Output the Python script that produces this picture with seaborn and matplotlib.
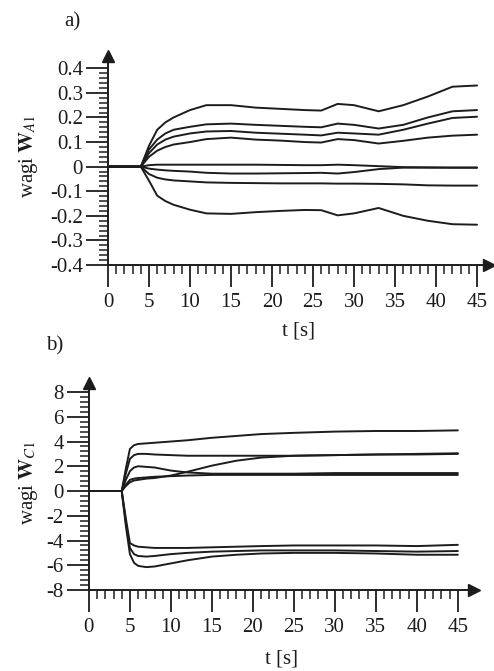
import seaborn as sns
import matplotlib.pyplot as plt
import numpy as np
import pandas as pd

# panel a) - wagi W_A1
t_a = [0, 4, 5, 6, 7, 8, 10, 12, 15, 18, 21, 24, 26, 28, 30, 33, 36, 39, 42, 45]
a1 = [0, 0, 0.085, 0.15, 0.18, 0.2, 0.23, 0.25, 0.25, 0.24, 0.235, 0.23, 0.228, 0.255, 0.25, 0.225, 0.25, 0.285, 0.325, 0.33]
a2 = [0, 0, 0.07, 0.11, 0.135, 0.15, 0.162, 0.172, 0.175, 0.17, 0.166, 0.162, 0.16, 0.175, 0.17, 0.155, 0.17, 0.2, 0.225, 0.23]
a3 = [0, 0, 0.055, 0.09, 0.11, 0.122, 0.135, 0.143, 0.145, 0.138, 0.134, 0.13, 0.127, 0.138, 0.135, 0.13, 0.15, 0.175, 0.198, 0.203]
a4 = [0, 0, 0.04, 0.065, 0.08, 0.09, 0.1, 0.112, 0.118, 0.11, 0.106, 0.1, 0.098, 0.112, 0.108, 0.094, 0.105, 0.118, 0.126, 0.13]
a5 = [0, 0, 0.006, 0.008, 0.008, 0.008, 0.008, 0.008, 0.008, 0.008, 0.007, 0.006, 0.006, 0.008, 0.006, 0.002, -0.002, -0.003, -0.004, -0.004]
a6 = [0, 0, -0.008, -0.012, -0.015, -0.017, -0.02, -0.025, -0.028, -0.028, -0.027, -0.026, -0.025, -0.028, -0.022, -0.01, -0.004, -0.004, -0.004, -0.004]
a7 = [0, 0, -0.03, -0.045, -0.052, -0.056, -0.06, -0.064, -0.066, -0.067, -0.068, -0.068, -0.068, -0.069, -0.069, -0.07, -0.072, -0.076, -0.077, -0.077]
a8 = [0, 0, -0.057, -0.118, -0.14, -0.155, -0.175, -0.19, -0.192, -0.185, -0.18, -0.176, -0.177, -0.198, -0.19, -0.168, -0.2, -0.22, -0.234, -0.236]

# panel b) - wagi W_C1
t_b = [0, 4, 4.5, 5, 5.5, 6, 7, 8, 10, 12, 15, 18, 21, 25, 30, 35, 40, 45]
b1 = [0, 0, 1.8, 3.4, 3.7, 3.8, 3.85, 3.9, 4.0, 4.1, 4.3, 4.45, 4.6, 4.7, 4.8, 4.85, 4.85, 4.9]
b2 = [0, 0, 1.4, 2.6, 2.9, 3.0, 3.0, 2.95, 2.9, 2.85, 2.85, 2.85, 2.85, 2.85, 2.9, 2.95, 2.95, 3.0]
b3 = [0, 0, 0.9, 1.6, 1.9, 2.0, 1.95, 1.9, 1.65, 1.5, 1.4, 1.4, 1.4, 1.4, 1.45, 1.45, 1.45, 1.45]
b4 = [0, 0, 0.4, 0.7, 0.85, 0.9, 1.0, 1.05, 1.25, 1.55, 2.05, 2.45, 2.7, 2.85, 2.9, 2.95, 3.0, 3.05]
b5 = [0, 0, 0.5, 0.9, 1.0, 1.05, 1.1, 1.15, 1.2, 1.25, 1.3, 1.3, 1.3, 1.3, 1.3, 1.3, 1.3, 1.3]
b6 = [0, 0, -2.2, -4.2, -4.4, -4.5, -4.55, -4.6, -4.6, -4.6, -4.55, -4.5, -4.45, -4.4, -4.4, -4.4, -4.45, -4.35]
b7 = [0, 0, -2.5, -4.6, -5.1, -5.25, -5.3, -5.25, -5.1, -5.0, -4.9, -4.85, -4.8, -4.8, -4.8, -4.85, -4.9, -4.85]
b8 = [0, 0, -2.8, -5.1, -5.8, -6.05, -6.15, -6.1, -5.85, -5.6, -5.3, -5.15, -5.05, -5.0, -5.0, -5.05, -5.15, -5.15]

x_ticks = [0, 5, 10, 15, 20, 25, 30, 35, 40, 45]
y_ticks_a = [-0.4, -0.3, -0.2, -0.1, 0, 0.1, 0.2, 0.3, 0.4]
y_labels_a = ["-0.4", "-0.3", "-0.2", "-0.1", "0", "0.1", "0.2", "0.3", "0.4"]
y_ticks_b = [-8, -6, -4, -2, 0, 2, 4, 6, 8]
y_labels_b = ["-8", "-6", "-4", "-2", "0", "2", "4", "6", "8"]


def long_df(t, curves):
    rows = []
    for i, c in enumerate(curves):
        for tt, v in zip(t, c):
            rows.append((i, tt, v))
    return pd.DataFrame(rows, columns=["curve", "t", "w"])


df_a = long_df(t_a, [a1, a2, a3, a4, a5, a6, a7, a8])
df_b = long_df(t_b, [b1, b2, b3, b4, b5, b6, b7, b8])

sns.set_theme(style="white")
plt.rcParams["font.family"] = ["Liberation Serif", "DejaVu Serif"]
plt.rcParams["mathtext.fontset"] = "stix"
plt.rcParams["axes.unicode_minus"] = False

ink = "#1c1c1c"
fs = 15

fig = plt.figure(figsize=(4.94, 6.71), dpi=100)
ax_a = fig.add_axes([0.2186, 0.605, 0.772, 0.3116])
ax_b = fig.add_axes([0.180, 0.1207, 0.780, 0.308])


def style_axis(ax, ylo, yhi, xhi, yt, yl, ymin_step, ylabel, lab_x, lab_y, xlab_y):
    ax.set_xlim(0, xhi)
    ax.set_ylim(ylo, yhi)
    ax.set_xticks(x_ticks)
    ax.set_xticks(np.arange(0, 46, 1), minor=True)
    ax.set_yticks(yt, yl)
    ax.set_yticks(np.arange(ylo, yt[-1] + ymin_step / 2, ymin_step), minor=True)
    for s in ["top", "right"]:
        ax.spines[s].set_visible(False)
    for s in ["left", "bottom"]:
        ax.spines[s].set_linewidth(1.4)
        ax.spines[s].set_color(ink)
    ax.tick_params(which="both", bottom=True, left=True, top=False, right=False)
    ax.tick_params(which="major", direction="out", length=16, width=1.3,
                   color=ink, labelsize=fs, labelcolor=ink, pad=2)
    ax.tick_params(which="minor", direction="out", length=6.5, width=1.1, color=ink)
    ax.tick_params(axis="x", which="major", pad=4)
    ax.set_xlabel("t [s]", fontsize=fs, color=ink)
    ax.set_ylabel(ylabel, fontsize=fs, color=ink)
    ax.yaxis.set_label_coords(lab_x, lab_y)
    ax.xaxis.set_label_coords(0.5, xlab_y)
    ax.plot(1, ylo, ">", color=ink, ms=9, transform=ax.get_yaxis_transform(), clip_on=False)
    ax.plot(0, 1, "^", color=ink, ms=9, transform=ax.get_xaxis_transform(), clip_on=False)
    ax.set_facecolor("none")


sns.lineplot(data=df_a, x="t", y="w", units="curve", estimator=None,
             color=ink, linewidth=1.4, ax=ax_a)
sns.lineplot(data=df_b, x="t", y="w", units="curve", estimator=None,
             color=ink, linewidth=1.4, ax=ax_b)

style_axis(ax_a, -0.4, 0.45, 46.5, y_ticks_a, y_labels_a, 0.02,
           r"wagi $\mathbf{W}_{A1}$", -0.178, 0.52, -0.27)
style_axis(ax_b, -8, 8.7, 47, y_ticks_b, y_labels_b, 0.4,
           r"wagi $\mathbf{W}_{C1}$", -0.127, 0.52, -0.29)

fig.text(72 / 494, 1 - 22 / 671, "a)", ha="center", va="center", fontsize=fs, color=ink)
fig.text(55 / 494, 1 - 346 / 671, "b)", ha="center", va="center", fontsize=fs, color=ink)

plt.savefig("out.png", dpi=100)
